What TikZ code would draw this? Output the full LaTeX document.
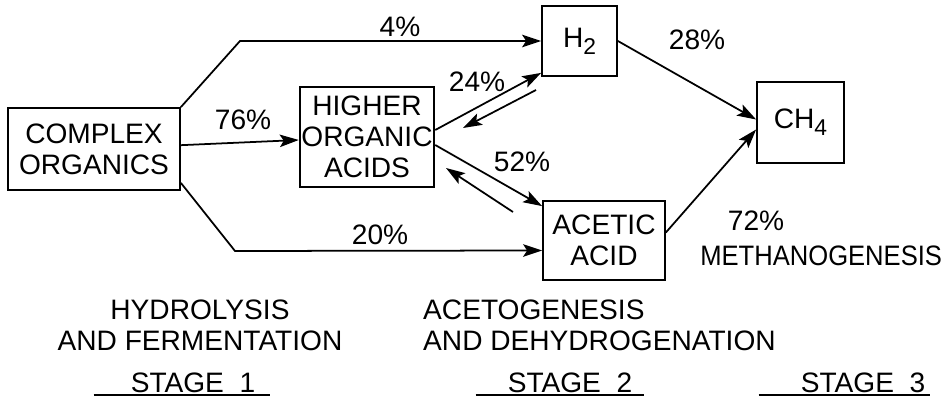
\documentclass[tikz,border=0pt]{standalone}
\usepackage{fontspec}
\setmainfont{Liberation Sans}
\usetikzlibrary{arrows.meta,calc,positioning}
\newcommand{\lowidx}[1]{\raisebox{-0.45ex}{\fontsize{13}{13}\selectfont #1}}

\begin{document}
\begin{tikzpicture}[x=0.02cm,y=-0.02cm,
  font=\fontsize{16}{17.5}\selectfont,
  box/.style={draw,line width=1pt,align=center,inner sep=1pt},
  flow/.style={line width=1pt,-{Stealth[length=3.8mm,width=2.5mm,inset=0.8mm]}},
  stagebar/.style={line width=1pt}]
  \useasboundingbox (0,0) rectangle (946,401);
  \node[box,minimum width=3.44cm,minimum height=1.64cm] (complex) at (94,149) {COMPLEX\\ORGANICS};
  \node[box,minimum width=2.68cm,minimum height=2cm] (higher) at (367,137) {HIGHER\\ORGANIC\\ACIDS};
  \node[box,minimum width=1.5cm,minimum height=1.4cm] (h2) at (579.5,41) {H\lowidx{2}};
  \node[box,minimum width=1.74cm,minimum height=1.62cm] (ch4) at (800.5,122.5) {CH\lowidx{4}};
  \node[box,minimum width=2.44cm,minimum height=1.58cm] (acetic) at (604,240.5) {ACETIC\\ACID};
  \coordinate (bendup) at (240,41);
  \coordinate (benddown) at (235,251);
  \coordinate (backa) at (536,90);
  \coordinate (backb) at (463,128);
  \coordinate (backc) at (513,212);
  \coordinate (backd) at (446,168);
  \draw[flow] (complex) -- (higher);
  \draw[flow] (complex.north east) -- (bendup) -- (h2.west);
  \draw[flow] ([yshift=0.16cm]complex.south east) -- (benddown) -- ([yshift=-0.2cm]acetic.west);
  \draw[flow] ([yshift=0.14cm]higher.east) -- ([yshift=0.08cm]h2.south west);
  \draw[flow] (backa) -- (backb);
  \draw[flow] ([yshift=-0.16cm]higher.east) -- ([yshift=-0.12cm]acetic.north west);
  \draw[flow] (backc) -- (backd);
  \draw[flow] (h2.east) -- ([yshift=0.06cm]ch4.west);
  \draw[flow] ([yshift=0.16cm]acetic.east) -- ([yshift=-0.14cm]ch4.west);
  \node (p4) at (400,27) {4\%};
  \node (p76) at (243,120) {76\%};
  \node (p24) at (477,82) {24\%};
  \node (p52) at (522,162) {52\%};
  \node (p28) at (697,40) {28\%};
  \node (p20) at (380,235) {20\%};
  \node (p72) at (756,221) {72\%};
  \node[anchor=west,inner sep=0pt] (methano) at (700,256) {\scalebox{0.91}[1]{METHANOGENESIS}};
  \node[align=center] (hydro) at (200,325) {HYDROLYSIS\\AND FERMENTATION};
  \node[align=left,anchor=west] (aceto) at (417,325) {ACETOGENESIS\\AND DEHYDROGENATION};
  \node[inner sep=1pt] (stage1) at (193,383) {STAGE\ \ 1};
  \node[inner sep=1pt] (stage2) at (570,383) {STAGE\ \ 2};
  \node[inner sep=1pt] (stage3) at (863,383) {STAGE\ \ 3};
  \draw[stagebar] ([xshift=-0.7cm]stage1.south west) -- ([xshift=0.25cm]stage1.south east);
  \draw[stagebar] ([xshift=-0.6cm]stage2.south west) -- ([xshift=0.2cm]stage2.south east);
  \draw[stagebar] ([xshift=-0.8cm]stage3.south west) -- ([xshift=0.05cm]stage3.south east);
\end{tikzpicture}
\end{document}
